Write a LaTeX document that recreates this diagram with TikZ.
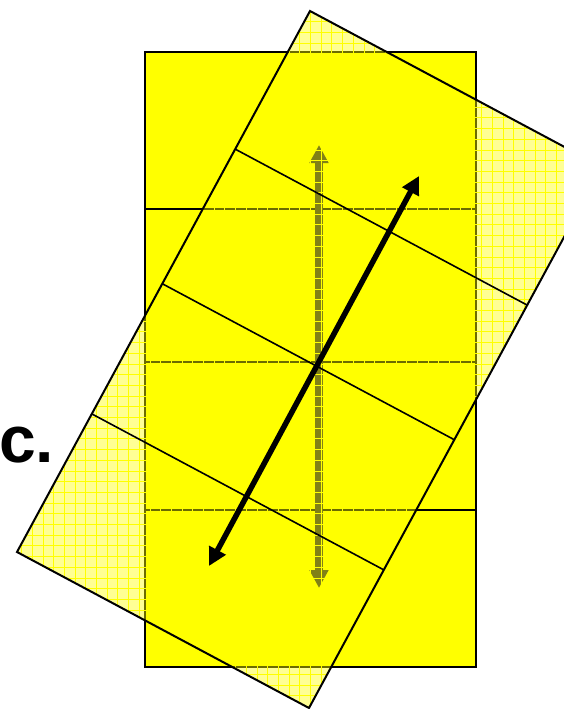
\documentclass[tikz,border=0pt]{standalone}
\usepackage{fontspec}
\setmainfont{Liberation Sans}
\usetikzlibrary{arrows.meta,calc}
\definecolor{pureyellow}{RGB}{255,255,0}
\tikzset{
  mainrect/.style={fill=pureyellow, draw=black, line width=2pt},
  divline/.style={draw=black, line width=1.6pt},
  overlayfill/.style={fill=pureyellow, fill opacity=0.42},
  overlaygrid/.style={draw=pureyellow, line width=0.5pt},
  overlayedge/.style={draw=black, line width=2pt, line join=miter},
  axisarrow/.style={draw=black!85, line width=8pt, {Triangle[width=18pt,length=18pt]}-{Triangle[width=18pt,length=18pt]}},
  tiltarrow/.style={draw=black, line width=5.5pt, {Triangle[width=18pt,length=18pt]}-{Triangle[width=18pt,length=18pt]}},
  biglabel/.style={anchor=base west, inner sep=0pt, font=\fontsize{66}{66}\selectfont\bfseries}
}
\begin{document}
\begin{tikzpicture}[x=1pt,y=-1pt]
\useasboundingbox (0,0) rectangle (564,709);
\clip (0,0) rectangle (564,709);
% upright rectangle
\coordinate (A1) at (145,52);
\coordinate (A2) at (476,52);
\coordinate (A3) at (476,667);
\coordinate (A4) at (145,667);
\path[mainrect] (A1) -- (A2) -- (A3) -- (A4) -- cycle;
\foreach \f in {0.2553,0.5041,0.7447}{
  \path[divline] ($(A1)!\f!(A4)$) -- ($(A2)!\f!(A3)$);
}
% vertical arrow
\coordinate (vt) at (319,145);
\coordinate (vb) at (319,588);
\path[axisarrow] (vb) -- (vt);
% tilted translucent rectangle
\coordinate (T) at (310,11);
\coordinate (R) at (602,167);
\coordinate (B) at (309,708);
\coordinate (L) at (17,552);
\path[overlayfill] (T) -- (R) -- (B) -- (L) -- cycle;
\begin{scope}
  \clip (T) -- (R) -- (B) -- (L) -- cycle;
  \foreach \i in {0,...,57}{
    \path[overlaygrid] (\i*10.7,0) -- (\i*10.7,720);
  }
  \foreach \j in {0,...,67}{
    \path[overlaygrid] (0,\j*10.7) -- (610,\j*10.7);
  }
\end{scope}
\path[overlayedge] (T) -- (R) -- (B) -- (L) -- cycle;
\foreach \f in {0.2553,0.5041,0.7447}{
  \path[divline] ($(T)!\f!(L)$) -- ($(R)!\f!(B)$);
}
% tilted arrow
\coordinate (dt) at (419,176);
\coordinate (db) at (209,566);
\path[tiltarrow] (db) -- (dt);
% label
\node[biglabel] (lbl) at (-1,462) {c.};
\end{tikzpicture}
\end{document}
